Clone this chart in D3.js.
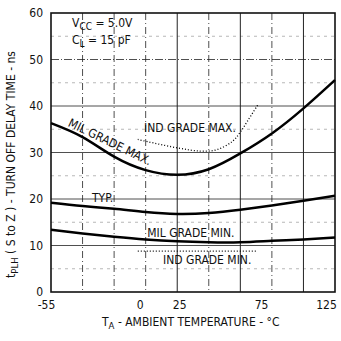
<!DOCTYPE html>
<html>
<head>
<meta charset="utf-8">
<script src="https://cdn.jsdelivr.net/npm/d3@7"></script>
<style>
  body { margin: 0; background: #fff; }
  svg text { font-family: "DejaVu Sans Condensed", sans-serif; fill: #111; }
</style>
</head>
<body>
<svg id="chart"></svg>
<script>
// temperatures (deg C) where the curves were read
const temps = [-55, -35, -15, 5, 25, 45, 65, 85, 105, 125];
const milMax = [36.3, 33.3, 29.1, 26.2, 25.2, 26.4, 29.8, 34.1, 39.5, 45.6];
const typ    = [19.2, 18.5, 17.9, 17.2, 16.8, 17.0, 17.7, 18.6, 19.6, 20.7];
const milMin = [13.4, 12.6, 11.9, 11.3, 10.9, 10.7, 10.7, 11.0, 11.3, 11.7];

const indTemps = [0, 25, 40, 50, 60, 65, 70, 76];
const indMax   = [32.8, 31.0, 30.3, 30.6, 32.4, 34.4, 37.0, 40.2];
const indMinTemps = [0, 75];
const indMin   = [8.8, 8.8];

const xTickLabels = [-55, 0, 25, 75, 125];
const yTickLabels = [0, 10, 20, 30, 40, 50, 60];
const xGrid = [-35, -15, 5, 25, 45, 65, 85, 105];
const solidXGrid = [25, 65, 105];

const width = 341, height = 341;
const margin = {top: 13, right: 6, bottom: 49, left: 51};

const svg = d3.select('#chart')
    .attr('width', width)
    .attr('height', height);

const innerW = width - margin.left - margin.right;
const innerH = height - margin.top - margin.bottom;

const xScale = d3.scaleLinear().domain([-55, 125]).range([0, innerW]);
const yScale = d3.scaleLinear().domain([0, 60]).range([innerH, 0]);

const chart = svg.append('g')
    .attr('transform', `translate(${margin.left},${margin.top})`);

// minor horizontal dashed lines
chart.selectAll('.minor-h')
    .data([5, 15, 25, 35, 45, 55])
  .join('line')
    .attr('x1', 0).attr('x2', innerW)
    .attr('y1', d => yScale(d)).attr('y2', d => yScale(d))
    .attr('stroke', '#999')
    .attr('stroke-width', 0.7)
    .attr('stroke-dasharray', '3,4');

// major horizontal grid
chart.selectAll('.major-h')
    .data([10, 20, 30, 40, 50])
  .join('line')
    .attr('x1', 0).attr('x2', innerW)
    .attr('y1', d => yScale(d)).attr('y2', d => yScale(d))
    .attr('stroke', '#222')
    .attr('stroke-width', 0.8)
    .attr('stroke-dasharray', d => d === 50 ? '8,2,1,2' : null);

// vertical grid
chart.selectAll('.grid-v')
    .data(xGrid)
  .join('line')
    .attr('x1', d => xScale(d)).attr('x2', d => xScale(d))
    .attr('y1', 0).attr('y2', innerH)
    .attr('stroke', '#222')
    .attr('stroke-width', d => solidXGrid.includes(d) ? 1 : 0.8)
    .attr('stroke-dasharray', d => solidXGrid.includes(d) ? null : '7,3,1,3');

// frame
chart.append('rect')
    .attr('x', 0).attr('y', 0)
    .attr('width', innerW).attr('height', innerH)
    .attr('fill', 'none')
    .attr('stroke', '#111')
    .attr('stroke-width', 1.6);

const line = d3.line()
    .x(d => xScale(d[0]))
    .y(d => yScale(d[1]))
    .curve(d3.curveNatural);

const zip = (xs, ys) => xs.map((x, i) => [x, ys[i]]);

[milMax, typ, milMin].forEach(s => {
  chart.append('path')
      .datum(zip(temps, s))
      .attr('d', line)
      .attr('fill', 'none')
      .attr('stroke', '#000')
      .attr('stroke-width', 2.5);
});

const dotLine = d3.line()
    .x(d => xScale(d[0]))
    .y(d => yScale(d[1]))
    .curve(d3.curveCatmullRom);

[[indTemps, indMax], [indMinTemps, indMin]].forEach(([t, s]) => {
  chart.append('path')
      .datum(zip(t, s))
      .attr('d', dotLine)
      .attr('fill', 'none')
      .attr('stroke', '#000')
      .attr('stroke-width', 1.3)
      .attr('stroke-dasharray', '1,2');
});

// axes labels
const yAxis = d3.axisLeft(yScale).tickValues(yTickLabels).tickSize(0).tickPadding(8);
chart.append('g')
    .call(yAxis)
    .call(g => g.select('.domain').remove())
    .call(g => g.selectAll('text').style('font-size', '12px')
        .style('font-family', '"DejaVu Sans Condensed", sans-serif'));

const xAxis = d3.axisBottom(xScale).tickValues(xTickLabels).tickSize(0).tickPadding(8)
    .tickFormat(d => d);
chart.append('g')
    .attr('transform', `translate(0,${innerH})`)
    .call(xAxis)
    .call(g => g.select('.domain').remove())
    .call(g => g.selectAll('text').style('font-size', '12px')
        .style('font-family', '"DejaVu Sans Condensed", sans-serif')
        .attr('dx', d => d === -55 ? -5 : d === 125 ? -9 : d === 75 ? 5 : 2));

// annotations
const ann = chart.append('g').style('font-size', '12px');

const vcc = ann.append('text').attr('x', 21).attr('y', 14);
vcc.append('tspan').text('V');
vcc.append('tspan').attr('dy', 3).style('font-size', '10px').text('CC');
vcc.append('tspan').attr('dy', -3).text(' = 5.0V');

const cl = ann.append('text').attr('x', 21).attr('y', 31);
cl.append('tspan').text('C');
cl.append('tspan').attr('dy', 3).style('font-size', '10px').text('L');
cl.append('tspan').attr('dy', -3).text(' = 15 pF');

ann.append('text')
    .attr('x', xScale(4)).attr('y', yScale(34.4))
    .text('IND GRADE MAX.');

ann.append('text')
    .attr('transform', `translate(${xScale(-17.6)},${yScale(32.3)}) rotate(26)`)
    .attr('text-anchor', 'middle')
    .attr('dy', '0.35em')
    .text('MIL GRADE MAX.');

ann.append('text')
    .attr('x', xScale(-29)).attr('y', yScale(19.3))
    .text('TYP.');

ann.append('text')
    .attr('x', xScale(6)).attr('y', yScale(11.8))
    .text('MIL GRADE MIN.');

ann.append('text')
    .attr('x', xScale(16)).attr('y', yScale(6.1))
    .text('IND GRADE MIN.');

// axis titles
const yTitle = svg.append('text')
    .attr('transform', `translate(15,${margin.top + innerH / 2 + 12}) rotate(-90)`)
    .attr('text-anchor', 'middle')
    .style('font-size', '12px');
yTitle.append('tspan').text('t');
yTitle.append('tspan').attr('dy', 3).style('font-size', '9.5px').text('PLH');
yTitle.append('tspan').attr('dy', -3).text(' ( S to Z ) - TURN OFF DELAY TIME - ns');

const xTitle = svg.append('text')
    .attr('x', 102).attr('y', 326)
    .style('font-size', '12px');
xTitle.append('tspan').text('T');
xTitle.append('tspan').attr('dy', 3).style('font-size', '9.5px').text('A');
xTitle.append('tspan').attr('dy', -3).text(' - AMBIENT TEMPERATURE - \u00B0C');
</script>
</body>
</html>
